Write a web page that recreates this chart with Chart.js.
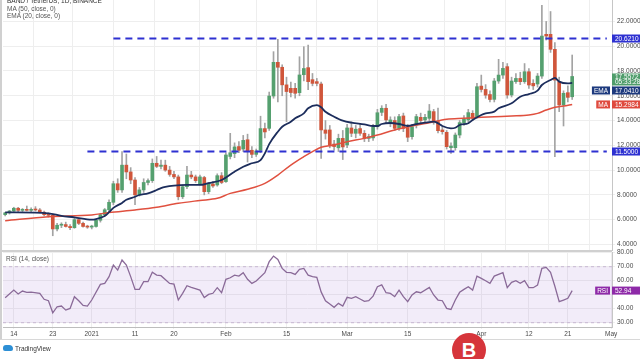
<!DOCTYPE html>
<html><head><meta charset="utf-8">
<script src="https://cdn.jsdelivr.net/npm/chart.js@4.4.1/dist/chart.umd.min.js"></script>
<style>
html,body{margin:0;padding:0;background:#fff;}
body{width:640px;height:359px;overflow:hidden;position:relative;font-family:"Liberation Sans",Arial,sans-serif;}
canvas{position:absolute;left:0;}
#cMain{top:0;}
#cRsi{top:246px;}
.t{position:absolute;white-space:nowrap;color:#555;font-size:6.5px;line-height:7px;}
.ln{position:absolute;background:#d0d0d0;}
</style></head><body>
<canvas id="cRsi" width="640" height="113"></canvas>
<canvas id="cMain" width="640" height="251"></canvas>
<div class="ln" style="left:0;top:250px;width:612px;height:2px;"></div>
<div class="ln" style="left:0;top:0;width:2px;height:340px;"></div>
<div class="ln" style="left:0;top:339px;width:640px;height:1px;background:#d8d8d8"></div>
<div class="t" style="left:7px;top:-3px;color:#333">BAND / TetherUS, 1D, BINANCE</div>
<div class="t" style="left:7px;top:5px;">MA (50, close, 0)</div>
<div class="t" style="left:7px;top:12px;">EMA (20, close, 0)</div>
<div class="t" style="left:6px;top:255px;">RSI (14, close)</div>
<div style="position:absolute;left:3px;top:345px;width:10px;height:6px;background:#2d8fd5;border-radius:3px 4px 2px 2px;"></div>
<div class="t" style="left:15px;top:344.5px;color:#333;font-size:6.5px;">TradingView</div>
<div style="position:absolute;left:452px;top:333px;width:34px;height:34px;border-radius:50%;background:#d6353b;color:#fff;font:bold 20px 'Liberation Sans',Arial,sans-serif;text-align:center;line-height:34px;">B</div>
<script>
// ---------- data ----------
const timeIdx    = [2, 11, 20, 30, 39, 51, 65, 79, 93, 110, 121, 130, 140];
const timeLabels = ['14','23','2021','11','20','Feb','15','Mar','15','Apr','12','21','May'];
const priceTicks = [4, 6, 8, 10, 12, 14, 16, 18, 20, 22];
const rsiTicks   = [30, 40, 50, 60, 70, 80];

const open = [6.40,6.55,6.70,6.92,6.75,6.80,6.75,6.82,6.78,6.60,
6.40,6.35,5.25,5.55,5.60,5.45,5.35,6.00,5.70,5.45,
5.40,5.45,5.95,6.40,6.80,7.40,8.90,8.40,10.40,9.85,
9.20,8.00,8.40,9.00,9.15,10.55,10.30,10.40,10.00,9.65,
9.45,7.85,8.66,9.60,9.45,8.90,9.40,8.26,8.88,8.80,
9.55,9.07,11.10,11.33,11.90,11.70,12.45,11.60,11.27,11.60,
13.35,13.37,15.98,18.70,18.30,16.88,16.60,16.60,16.25,17.70,
18.27,17.30,17.14,16.95,13.24,13.24,12.10,11.80,12.56,12.03,
13.40,12.97,13.35,12.97,12.56,12.60,13.50,14.66,14.99,13.78,
14.00,13.37,14.37,13.43,12.70,13.64,14.26,14.05,14.18,14.72,
13.91,13.24,13.05,11.81,11.81,12.83,13.83,14.05,14.58,14.31,
16.78,16.51,16.10,15.71,17.19,17.67,18.35,16.06,17.14,17.40,
17.14,17.94,17.00,16.95,17.59,20.96,20.96,19.75,17.14,15.26,
16.25,15.92];
const high = [6.60,6.75,7.00,7.00,6.90,7.10,6.95,7.05,6.90,6.70,
6.55,6.40,5.70,5.75,5.80,5.60,6.10,6.10,5.80,5.55,
5.55,6.00,6.50,6.90,7.60,9.10,9.30,11.50,11.30,10.20,
9.40,8.60,9.30,9.30,10.90,11.10,10.80,10.80,10.30,9.90,
9.60,8.80,10.30,9.90,9.60,9.60,9.50,9.00,9.10,9.70,
9.80,11.40,12.97,12.20,12.30,12.80,12.90,11.90,11.70,14.35,
13.80,16.30,19.56,20.56,18.50,17.50,17.10,17.00,19.15,19.96,
20.10,17.80,17.40,17.10,14.00,13.60,12.40,12.90,13.20,13.70,
13.90,13.60,13.70,13.20,12.90,13.70,14.90,15.20,15.30,14.30,
14.30,14.50,14.60,13.70,13.70,14.50,14.60,14.50,15.30,14.90,
15.00,13.50,13.20,12.20,13.00,14.00,14.40,14.90,14.80,17.00,
17.67,16.90,16.40,17.40,18.94,18.70,18.60,17.50,17.80,17.90,
18.60,18.20,17.30,17.80,23.30,22.00,22.80,20.30,17.50,16.40,
16.80,19.29];
const low = [6.30,6.45,6.60,6.65,6.65,6.70,6.60,6.70,6.55,6.30,
6.20,4.70,5.10,5.35,5.40,5.20,5.30,5.60,5.40,5.30,
5.25,5.40,5.80,6.30,6.60,7.20,8.20,8.20,9.30,8.90,
7.20,7.90,8.20,8.80,9.00,10.20,10.10,9.90,9.50,9.30,
7.60,7.70,8.50,9.30,9.00,8.80,8.00,8.10,8.60,8.70,
8.90,9.00,10.90,11.00,11.40,11.50,10.65,11.00,11.10,11.40,
12.60,13.20,15.80,15.50,16.00,13.90,15.90,15.80,16.00,17.20,
16.50,16.80,16.80,10.95,12.50,11.80,11.60,11.50,10.85,11.80,
12.70,12.60,12.80,12.30,12.30,12.40,13.30,14.40,13.80,13.50,
13.20,13.20,13.10,12.30,12.50,13.40,13.80,13.90,14.00,13.70,
13.00,12.90,11.70,11.35,11.60,12.60,13.60,13.90,14.00,14.20,
16.30,15.80,15.50,15.50,17.00,17.40,15.80,15.90,17.00,16.90,
17.00,16.60,16.50,16.70,17.40,20.50,19.50,11.08,14.72,13.56,
15.50,15.70];
const close = [6.55,6.70,6.92,6.75,6.80,6.75,6.82,6.78,6.60,6.40,
6.35,5.25,5.55,5.60,5.45,5.35,6.00,5.70,5.45,5.40,
5.45,5.95,6.40,6.80,7.40,8.90,8.40,10.40,9.85,9.20,
8.00,8.40,9.00,9.15,10.55,10.30,10.40,10.00,9.65,9.45,
7.85,8.66,9.60,9.45,9.15,9.45,8.26,8.93,8.72,9.55,
9.00,11.22,11.40,11.87,11.60,12.40,11.54,11.27,11.54,13.35,
13.08,15.98,18.70,18.30,16.88,16.34,16.26,16.20,17.68,18.20,
17.14,17.00,17.00,13.24,12.97,12.03,11.90,12.56,11.87,13.40,
12.97,13.30,12.97,12.56,12.70,13.46,14.63,14.99,14.05,14.05,
13.37,14.32,13.37,12.65,13.50,14.32,14.00,14.26,14.77,13.91,
13.18,13.10,11.89,11.94,12.83,13.83,14.10,14.64,14.18,16.73,
16.51,16.05,15.70,17.19,17.67,18.21,16.06,17.19,17.40,17.14,
17.94,16.87,16.80,17.59,20.82,20.82,19.75,17.27,15.26,16.20,
15.87,17.5572];

const emaIdx = [0,10,13,16,20,21,23,24,25,27,28,30,31,33,35,36,37,39,42,45,47,50,53,55,57,59,60,61,63,64,66,67,69,70,72,73,74,76,78,80,83,85,86,87,89,91,93,95,97,99,100,101,103,104,105,107,108,110,111,113,114,117,119,121,123,124,126,127,128,130,131];
const emaVal = [6.59,6.51,6.30,6.19,6.00,6.05,6.30,6.60,6.95,7.35,7.60,7.85,7.99,8.12,8.39,8.55,8.65,8.75,8.80,8.80,8.95,9.20,9.87,10.27,10.55,10.81,11.35,12.10,13.10,13.50,13.90,14.18,14.58,14.99,15.25,15.07,14.71,14.31,13.99,13.83,13.69,13.56,13.56,13.72,13.80,13.72,13.56,13.72,13.83,13.91,13.78,13.56,13.37,13.42,13.64,13.78,14.04,14.45,14.58,14.72,14.99,15.39,15.92,16.14,16.41,16.87,17.27,17.45,17.14,17.00,17.041];

const maIdx = [0,10,20,24,30,35,40,45,49,52,56,60,63,66,69,71,73,76,79,83,86,90,94,98,102,106,110,113,117,121,123,125,127,129,131];
const maVal = [5.92,6.24,6.38,6.57,6.78,7.00,7.32,7.55,7.72,8.12,8.45,8.93,9.60,10.41,11.08,11.49,11.84,12.03,12.29,12.56,12.83,13.24,13.56,13.83,14.10,14.18,14.26,14.31,14.37,14.45,14.58,14.85,15.07,15.17,15.2984];

const rsiIdx = [0,2,3,4,5,6,8,9,10,11,12,13,14,15,16,17,18,19,20,22,23,24,25,26,27,28,29,30,31,32,33,34,35,36,38,39,40,41,42,43,45,46,47,48,49,50,51,52,53,54,55,56,57,58,60,61,62,63,64,65,66,67,68,69,70,71,72,73,74,75,76,77,78,79,80,81,82,83,84,85,86,87,88,89,90,91,92,93,94,95,96,98,99,100,101,102,103,104,105,106,107,108,109,110,111,112,113,115,116,117,118,119,120,121,122,123,124,125,126,127,128,129,130,131];
const rsiVal = [47.9,53.3,50.5,52.6,51.7,51.9,51.0,46.7,45.7,37.1,41.4,41.9,39.0,40.2,48.6,45.7,42.4,41.9,46.2,57.4,58.1,62.9,71.2,67.6,74.8,71.2,62.9,53.8,53.8,59.3,59.3,66.0,64.0,63.6,58.1,57.6,46.2,51.0,56.4,55.2,53.3,47.9,50.2,51.0,55.0,51.4,61.0,62.1,64.0,63.3,65.7,61.0,58.1,59.8,65.7,73.6,77.6,75.2,68.8,66.0,65.7,64.5,68.1,68.8,64.0,62.9,62.4,52.0,45.7,43.3,41.0,43.8,41.9,48.1,47.4,48.6,46.9,45.2,45.7,49.0,55.7,57.0,51.4,50.9,48.6,53.3,48.6,45.0,49.8,52.1,51.4,55.2,49.8,46.2,45.7,40.2,39.5,46.2,51.7,53.8,55.7,53.3,63.3,61.7,60.0,58.1,63.3,65.7,55.0,58.8,60.0,58.1,60.0,55.0,55.0,56.9,68.8,69.5,66.0,56.0,45.0,46.2,47.4,52.94];

const resistance = 20.621, resistanceFrom = 25, resistanceTo = 139;
const support = 11.5, supportFrom = 19, supportTo = 139;
const rsiUpper = 70, rsiLower = 30;
const countdown = '05:33:28';

// ---------- view ranges ----------
const xMin = -0.5, xMax = 140.2;
const priceMin = 3.55, priceMax = 23.73;
const rsiMin = 26.93, rsiMax = 80.5;

// ---------- styles ----------
const GREEN = '#55a06f', RED = '#d0563b', WICK = '#a3a3a3';
const EMA_C = '#1c2d5c', MA_C = '#e0503f', LEVEL_C = '#2e31d1', RSI_C = '#8a6a98';
const GRID = '#eeeeee';
const FONT = '"Liberation Sans", Arial, sans-serif';

Chart.defaults.font.family = FONT;
Chart.defaults.font.size = 6.5;
Chart.defaults.color = '#4a4a4a';
Chart.defaults.animation = false;

const n = close.length;
const idx = Array.from({length: n}, (_, i) => i);
const pts = (xs, ys) => xs.map((x, i) => ({x, y: ys[i]}));
const tickMap = {}; timeIdx.forEach((v, i) => tickMap[v] = timeLabels[i]);

// ---------- tags ----------
const lastI = n - 1;
const mainTags = [
  {value: resistance, text: resistance.toFixed(4), bg: LEVEL_C},
  {value: close[lastI], text: close[lastI].toFixed(4), sub: countdown, bg: '#4f9d6b'},
  {value: emaVal[emaVal.length-1], text: emaVal[emaVal.length-1].toFixed(4), prefix: 'EMA', bg: '#1d3a7e'},
  {value: maVal[maVal.length-1], text: maVal[maVal.length-1].toFixed(4), prefix: 'MA', bg: '#df4a3e'},
  {value: support, text: support.toFixed(4), bg: LEVEL_C}
];
const rsiTags = [
  {value: rsiVal[rsiVal.length-1], text: rsiVal[rsiVal.length-1].toFixed(2), prefix: 'RSI', bg: '#8e2aa8'}
];
function layoutTags(scale, tags) {
  const out = tags.map(t => {
    const py = scale.getPixelForValue(t.value);
    const h = t.sub ? 12 : 8;
    return Object.assign({}, t, {py, h, top: t.sub ? py - 3 : py - h / 2});
  });
  out.sort((a, b) => a.top - b.top);
  for (let i = 1; i < out.length; i++) {
    const p = out[i - 1];
    if (out[i].top < p.top + p.h + 1) out[i].top = p.top + p.h + 1;
  }
  return out;
}
function tagPlugin(id, tags) {
  return {
    id,
    afterDraw(chart) {
      const ctx = chart.ctx, sc = chart.scales.y, R = chart.chartArea.right;
      const lay = layoutTags(sc, tags);
      ctx.save();
      ctx.font = '6.5px ' + FONT;
      ctx.textBaseline = 'middle';
      ctx.textAlign = 'left';
      for (const t of lay) {
        ctx.fillStyle = t.bg;
        ctx.fillRect(R, t.top, chart.width - R, t.h);
        ctx.fillStyle = '#fff';
        if (t.sub) {
          ctx.fillText(t.text, R + 3, t.top + 3.5);
          ctx.fillText(t.sub, R + 3, t.top + 9);
        } else {
          ctx.fillText(t.text, R + 3, t.top + t.h / 2 + 0.5);
        }
        if (t.prefix) {
          const w = ctx.measureText(t.prefix).width + 4;
          ctx.fillStyle = t.bg;
          ctx.fillRect(R - w - 2, t.top, w, t.h);
          ctx.fillStyle = '#fff';
          ctx.fillText(t.prefix, R - w, t.top + t.h / 2 + 0.5);
        }
      }
      ctx.restore();
    }
  };
}
function hideNearTags(scale, v, tags, digits) {
  const px = scale.getPixelForValue(v);
  for (const t of layoutTags(scale, tags)) {
    if (Math.abs(px - (t.top + t.h / 2)) < 5.8) return '';
  }
  return v.toFixed(digits);
}
function fitY(s) { s.width = 28; s.paddingTop = 0; s.paddingBottom = 0; }

// ---------- main price chart ----------
new Chart(document.getElementById('cMain'), {
  type: 'bar',
  data: {
    datasets: [
      {type: 'line', data: [{x: resistanceFrom, y: resistance}, {x: resistanceTo, y: resistance}],
       borderColor: LEVEL_C, borderWidth: 2, borderDash: [7, 5], pointRadius: 0, order: 0},
      {type: 'line', data: [{x: supportFrom, y: support}, {x: supportTo, y: support}],
       borderColor: LEVEL_C, borderWidth: 2, borderDash: [7, 5], pointRadius: 0, order: 0},
      {type: 'line', data: pts(emaIdx, emaVal), borderColor: EMA_C, borderWidth: 1.8,
       pointRadius: 0, cubicInterpolationMode: 'monotone', order: 1},
      {type: 'line', data: pts(maIdx, maVal), borderColor: MA_C, borderWidth: 1.5,
       pointRadius: 0, cubicInterpolationMode: 'monotone', order: 2},
      {type: 'bar', data: idx.map(i => ({x: i, y: [open[i], close[i]]})),
       backgroundColor: idx.map(i => close[i] >= open[i] ? GREEN : RED),
       barThickness: 3, grouped: false, minBarLength: 1, order: 3},
      {type: 'bar', data: idx.map(i => ({x: i, y: [low[i], high[i]]})),
       backgroundColor: WICK, barThickness: 1, grouped: false, order: 4}
    ]
  },
  options: {
    responsive: false, events: [],
    layout: {padding: {left: 3, right: 0, top: 0, bottom: 1}},
    plugins: {legend: {display: false}, tooltip: {enabled: false}},
    scales: {
      x: {type: 'linear', min: xMin, max: xMax, offset: false,
          afterBuildTicks: s => { s.ticks = timeIdx.map(v => ({value: v})); },
          ticks: {display: false}, grid: {color: GRID, drawTicks: false},
          border: {display: false},
          afterFit: s => { s.height = 0; s.paddingLeft = 0; s.paddingRight = 0; }},
      y: {position: 'right', min: priceMin, max: priceMax,
          afterBuildTicks: s => { s.ticks = priceTicks.map(v => ({value: v})); },
          ticks: {padding: 2, color: '#4a4a4a', font: {size: 6.5},
                  callback: function (v) { return hideNearTags(this, v, mainTags, 4); }},
          grid: {color: GRID, tickLength: 3},
          border: {color: '#c6c6c6'},
          afterFit: fitY}
    }
  },
  plugins: [tagPlugin('mainTags', mainTags)]
});

// ---------- RSI chart ----------
new Chart(document.getElementById('cRsi'), {
  type: 'line',
  data: {
    datasets: [
      {data: pts(rsiIdx, rsiVal), borderColor: RSI_C, borderWidth: 1.3, pointRadius: 0, tension: 0, order: 0},
      {data: [{x: xMin, y: rsiUpper}, {x: xMax, y: rsiUpper}], borderColor: '#c7b7d3', borderWidth: 1,
       borderDash: [3, 3], pointRadius: 0, fill: {value: rsiLower},
       backgroundColor: 'rgba(156,110,210,0.13)', order: 2},
      {data: [{x: xMin, y: rsiLower}, {x: xMax, y: rsiLower}], borderColor: '#c7b7d3', borderWidth: 1,
       borderDash: [3, 3], pointRadius: 0, order: 1}
    ]
  },
  options: {
    responsive: false, events: [],
    layout: {padding: {left: 3, right: 0, top: 6, bottom: 0}},
    plugins: {legend: {display: false}, tooltip: {enabled: false}},
    scales: {
      x: {type: 'linear', min: xMin, max: xMax, offset: false,
          afterBuildTicks: s => { s.ticks = timeIdx.map(v => ({value: v})); },
          ticks: {autoSkip: false, maxRotation: 0, padding: 1, color: '#4a4a4a', font: {size: 6.5},
                  callback: v => tickMap[v] !== undefined ? tickMap[v] : ''},
          grid: {color: GRID, tickLength: 2},
          border: {color: '#bdbdbd'},
          afterFit: s => { s.height = 32; s.paddingLeft = 0; s.paddingRight = 0; }},
      y: {position: 'right', min: rsiMin, max: rsiMax,
          afterBuildTicks: s => { s.ticks = rsiTicks.map(v => ({value: v})); },
          ticks: {padding: 2, color: '#4a4a4a', font: {size: 6.5},
                  callback: function (v) { return hideNearTags(this, v, rsiTags, 2); }},
          grid: {color: GRID, tickLength: 3},
          border: {color: '#c6c6c6'},
          afterFit: fitY}
    }
  },
  plugins: [tagPlugin('rsiTags', rsiTags)]
});
</script>
</body></html>
